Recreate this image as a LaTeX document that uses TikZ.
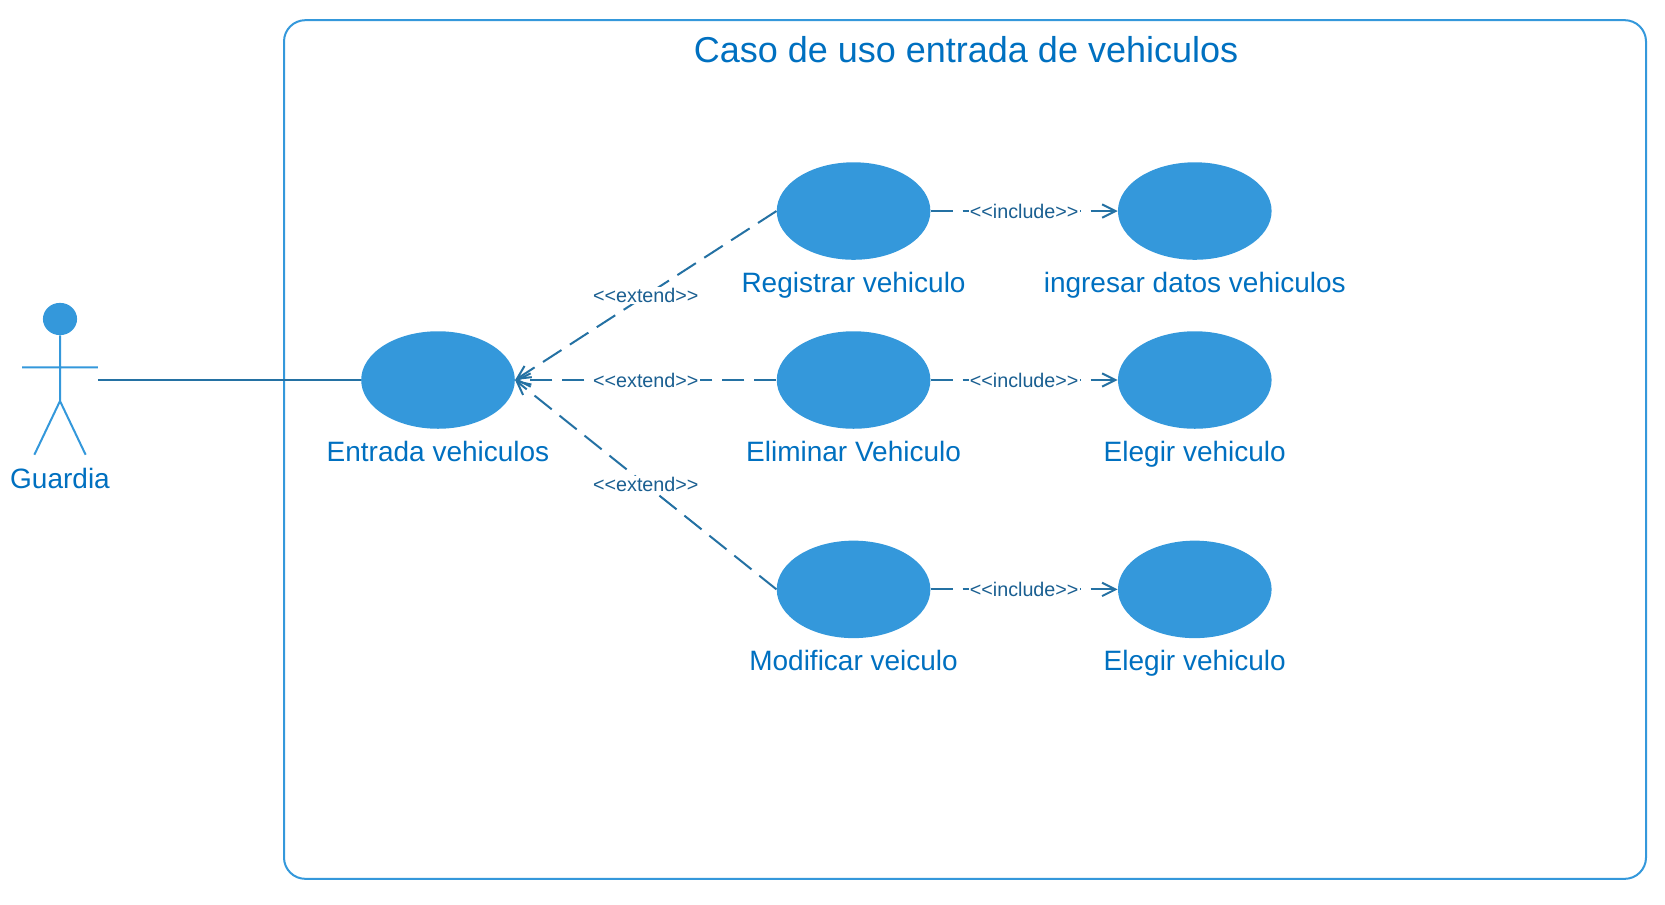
\documentclass[tikz,border=0pt]{standalone}
\usepackage{fontspec}
\setmainfont{Liberation Sans}
\usetikzlibrary{positioning,shapes.geometric,arrows.meta}
\definecolor{myblue}{RGB}{52,152,219}
\definecolor{mytext}{RGB}{0,112,192}
\definecolor{myline}{RGB}{36,113,163}
\definecolor{mytag}{RGB}{26,95,145}

\begin{document}
\begin{tikzpicture}[x=0.75pt,y=-0.75pt,node distance=3mm and 10mm,inner sep=0pt]
\tikzstyle{usecase}=[ellipse, minimum width=40.5mm, minimum height=25.7mm, fill=myblue]
\tikzstyle{usetext}=[text=mytext, font=\fontsize{21}{21}\selectfont, text height=15pt, text depth=4.5pt]
\tikzstyle{tag}=[text=mytag, fill=white, font=\fontsize{14.8}{15}\selectfont, inner sep=1pt, midway]
\tikzstyle{assoc}=[draw=myline, line width=1.5pt]
\tikzstyle{depend}=[draw=myline, line width=1.5pt, dash pattern=on 16.5pt off 7.5pt, -{Straight Barb[length=10pt,width=10pt]}]
\tikzstyle{actorline}=[draw=myblue, line width=1.5pt]
\useasboundingbox (0,0) rectangle (1665,904);

\node[rectangle,rounded corners=16pt,draw=myblue,line width=1.5pt,minimum width=1021.5pt,minimum height=644pt] (system) at (965,449.5) {};
\node[text=mytext,font=\fontsize{27}{27}\selectfont] (title) at (966,50) {Caso de uso entrada de vehiculos};

% actor
\node[ellipse,fill=myblue,minimum width=9mm,minimum height=8.5mm] (head) at (60,319) {};
\coordinate[below=8.4mm of head.south] (shoulder);
\coordinate[below=17.3mm of head.south] (hip);
\coordinate[left=10mm of shoulder] (armleft);
\coordinate[right=10mm of shoulder] (armright);
\coordinate[below left=14.15mm and 6.75mm of hip] (footleft);
\coordinate[below right=14.15mm and 6.75mm of hip] (footright);
\draw[actorline] (head.south) -- (hip) (armleft) -- (armright) (footleft) -- (hip) -- (footright);
\node[usetext] (guardia) at (60,481) {Guardia};

% use cases
\node[usecase] (entrada) at (438,380) {};
\node[usecase] (eliminar) [right=68.9mm of entrada] {};
\node[usecase] (registrar) [above=18.7mm of eliminar] {};
\node[usecase] (modificar) [below=29.35mm of eliminar] {};
\node[usecase] (ingresar) [right=49.3mm of registrar] {};
\node[usecase] (elegira) [right=49.3mm of eliminar] {};
\node[usecase] (elegirb) [right=49.3mm of modificar] {};
\coordinate (actorside) at (armright |- entrada);

\node[usetext] (entradatxt) [below=3.1mm of entrada] {Entrada vehiculos};
\node[usetext] (eliminartxt) [below=3.1mm of eliminar] {Eliminar Vehiculo};
\node[usetext] (registrartxt) [below=3.1mm of registrar] {Registrar vehiculo};
\node[usetext] (modificartxt) [below=3.1mm of modificar] {Modificar veiculo};
\node[usetext] (ingresartxt) [below=3.1mm of ingresar] {ingresar datos vehiculos};
\node[usetext] (elegiratxt) [below=3.1mm of elegira] {Elegir vehiculo};
\node[usetext] (elegirbtxt) [below=3.1mm of elegirb] {Elegir vehiculo};

\path (actorside) edge[assoc] (entrada.west);
\path (registrar.west) edge[depend] node[tag] (extenda) {<{}<extend>{}>} (entrada.east);
\path (eliminar.west) edge[depend] node[tag] (extendb) {<{}<extend>{}>} (entrada.east);
\path (modificar.west) edge[depend] node[tag] (extendc) {<{}<extend>{}>} (entrada.east);
\path (registrar.east) edge[depend] node[tag] (includea) {<{}<include>{}>} (ingresar.west);
\path (eliminar.east) edge[depend] node[tag] (includeb) {<{}<include>{}>} (elegira.west);
\path (modificar.east) edge[depend] node[tag] (includec) {<{}<include>{}>} (elegirb.west);
\end{tikzpicture}
\end{document}
